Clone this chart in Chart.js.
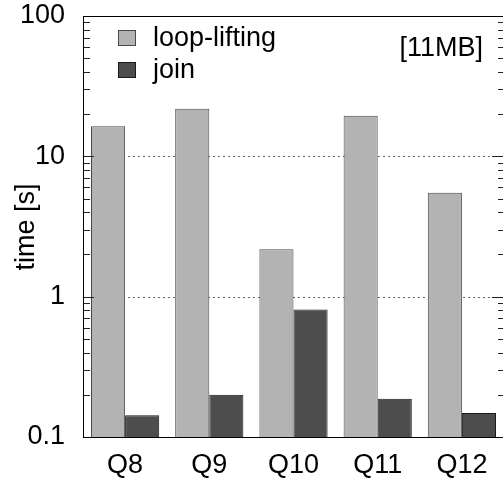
<!DOCTYPE html>
<html>
<head>
<meta charset="utf-8">
<script src="https://cdn.jsdelivr.net/npm/chart.js@4.4.1/dist/chart.umd.min.js"></script>
<style>
  html, body { margin: 0; padding: 0; background: #fff; overflow: hidden; }
  #wrap { width: 505px; height: 486px; }
</style>
</head>
<body>
<div id="wrap"><canvas id="myChart" width="505" height="486"></canvas></div>
<script>
var queries = ["Q8", "Q9", "Q10", "Q11", "Q12"];
var loopLifting = [16.4, 21.8, 2.18, 19.5, 5.5];
var join = [0.143, 0.2, 0.81, 0.187, 0.148];
var decades = [0.1, 1, 10, 100];
var minorTicks = [2, 3, 4, 5, 6, 7, 8, 9];

var FONT = "'Liberation Sans', Arial, sans-serif";
var FSIZE = 27;
var lightFill = "#b3b3b3", lightEdge = "#4a4a4a";
var darkFill = "#4d4d4d", darkEdge = "#1a1a1a";

// frame, inside ticks, dotted grid, legend, labels
var decor = {
    id: "decor",
    beforeDatasetsDraw: function(chart) {
        var c = chart.ctx, a = chart.chartArea, y = chart.scales.y;
        c.save();
        c.strokeStyle = "#666";
        c.lineWidth = 1;
        c.setLineDash([2, 3]);
        [1, 10].forEach(function(v) {
            var py = Math.round(y.getPixelForValue(v)) + 0.5;
            c.beginPath(); c.moveTo(a.left, py); c.lineTo(a.right, py); c.stroke();
        });
        c.restore();
    },
    afterDatasetsDraw: function(chart) {
        var c = chart.ctx, a = chart.chartArea, y = chart.scales.y;
        c.save();
        c.strokeStyle = "#222";
        c.lineWidth = 1;
        // ticks
        for (var d = 0; d < decades.length; d++) {
            var py = Math.round(y.getPixelForValue(decades[d])) + 0.5;
            c.beginPath();
            c.moveTo(a.left, py); c.lineTo(a.left + 11, py);
            c.moveTo(a.right, py); c.lineTo(a.right - 12, py);
            c.stroke();
            if (d < decades.length - 1) {
                minorTicks.forEach(function(m) {
                    var my = Math.round(y.getPixelForValue(decades[d] * m)) + 0.5;
                    c.beginPath();
                    c.moveTo(a.left, my); c.lineTo(a.left + 7, my);
                    c.moveTo(a.right, my); c.lineTo(a.right - 6, my);
                    c.stroke();
                });
            }
        }
        // frame
        c.strokeStyle = "#000";
        c.strokeRect(a.left + 0.5, a.top + 0.5, a.right - a.left - 1, a.bottom - a.top);
        // legend
        c.font = FSIZE + "px " + FONT;
        c.textBaseline = "middle";
        c.textAlign = "left";
        c.lineWidth = 1;
        c.fillStyle = lightFill; c.fillRect(118.5, 30.5, 17, 15);
        c.strokeStyle = lightEdge; c.strokeRect(118.5, 30.5, 17, 15);
        c.fillStyle = darkFill; c.fillRect(118.5, 62.5, 17, 15);
        c.strokeStyle = darkEdge; c.strokeRect(118.5, 62.5, 17, 15);
        c.fillStyle = "#000";
        c.fillText("loop-lifting", 153, 39);
        c.fillText("join", 153, 71);
        c.textAlign = "right";
        c.fillText("[11MB]", 483, 49);
        // y title
        c.translate(27, 227);
        c.rotate(-Math.PI / 2);
        c.textAlign = "center";
        c.fillText("time [s]", 0, 0);
        c.restore();
    }
};

function noPad(s) {
    s.paddingTop = 0; s.paddingBottom = 0;
    s.paddingLeft = 0; s.paddingRight = 0;
}

var ctx = document.getElementById("myChart");
var chart = new Chart(ctx, {
    type: "bar",
    data: {
        labels: queries,
        datasets: [
            {
                label: "loop-lifting",
                data: loopLifting,
                backgroundColor: lightFill,
                borderColor: lightEdge,
                borderWidth: 1,
                borderSkipped: "bottom"
            },
            {
                label: "join",
                data: join,
                backgroundColor: darkFill,
                borderColor: darkEdge,
                borderWidth: 1,
                borderSkipped: "bottom"
            }
        ]
    },
    options: {
        responsive: false,
        animation: false,
        layout: { padding: { top: 16, right: 1, left: 0, bottom: 0 } },
        categoryPercentage: 0.81,
        barPercentage: 1.0,
        plugins: {
            legend: { display: false },
            tooltip: { enabled: false }
        },
        scales: {
            x: {
                grid: { display: false, drawTicks: false },
                border: { display: false },
                ticks: { color: "#000", font: { family: FONT, size: FSIZE }, padding: 12 },
                afterFit: function(s) { s.height = 49; noPad(s); }
            },
            y: {
                type: "logarithmic",
                min: 0.1,
                max: 100,
                grid: { display: false, drawTicks: false },
                border: { display: false },
                afterBuildTicks: function(s) {
                    s.ticks = decades.map(function(v) { return { value: v, major: true }; });
                },
                ticks: {
                    color: "#000",
                    font: { family: FONT, size: FSIZE },
                    padding: 18,
                    autoSkip: false,
                    callback: function(v) { return String(v); }
                },
                afterFit: function(s) { s.width = 83; noPad(s); }
            }
        }
    },
    plugins: [decor]
});
</script>
</body>
</html>
